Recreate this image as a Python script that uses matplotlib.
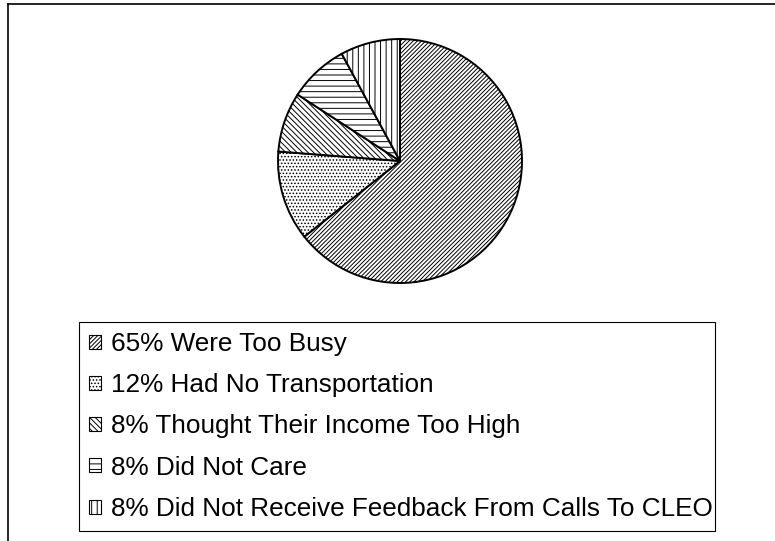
import matplotlib
matplotlib.use("Agg")
import matplotlib.pyplot as plt
from matplotlib.lines import Line2D

# survey answers: why people did not take part
labels = [
    "65% Were Too Busy",
    "12% Had No Transportation",
    "8% Thought Their Income Too High",
    "8% Did Not Care",
    "8% Did Not Receive Feedback From Calls To CLEO",
]
shares = [65, 12, 8, 8, 8]
hatches = ["////////", ".....", "\\\\\\\\\\\\", "---", "|||"]

plt.rcParams["font.family"] = ["Liberation Sans", "DejaVu Sans"]
plt.rcParams["hatch.linewidth"] = 0.7

W, H = 775, 541
fig = plt.figure(figsize=(W / 100, H / 100), dpi=100)

# pie placed by pixel centre and radius
cx, cy, r = 400, 161, 122
ax = fig.add_axes([(cx - r) / W, (H - cy - r) / H, 2 * r / W, 2 * r / H])
wedges, _ = ax.pie(
    shares,
    startangle=90,
    counterclock=False,
    colors=["white"] * len(shares),
    wedgeprops=dict(edgecolor="black", linewidth=1.4),
)
for w, h in zip(wedges, hatches):
    w.set_hatch(h)
ax.set_xlim(-1, 1)
ax.set_ylim(-1, 1)
ax.axis("off")

# legend box below the pie
lx0, lx1, ly0 = 79, 715, 322
leg = fig.legend(
    wedges, labels,
    loc="upper left",
    bbox_to_anchor=(lx0 / W, 1 - ly0 / H, (lx1 - lx0) / W, 0.0),
    mode="expand",
    ncol=1,
    fontsize=18.8,
    frameon=True,
    fancybox=False,
    shadow=False,
    edgecolor="black",
    framealpha=1,
    borderpad=0.38,
    labelspacing=0.66,
    handlelength=0.45,
    handleheight=0.45,
    handletextpad=0.38,
    borderaxespad=0,
)
leg.get_frame().set_linewidth(0.8)
for hnd in leg.legend_handles:
    hnd.set_linewidth(0.8)

# outer frame, top and left edges
fig.add_artist(Line2D([8 / W, 1], [1 - 3.5 / H, 1 - 3.5 / H],
                      transform=fig.transFigure, color="black", linewidth=1.2))
fig.add_artist(Line2D([8 / W, 8 / W], [0, 1 - 3.5 / H],
                      transform=fig.transFigure, color="black", linewidth=1.2))

fig.savefig("out.png", dpi=100)
